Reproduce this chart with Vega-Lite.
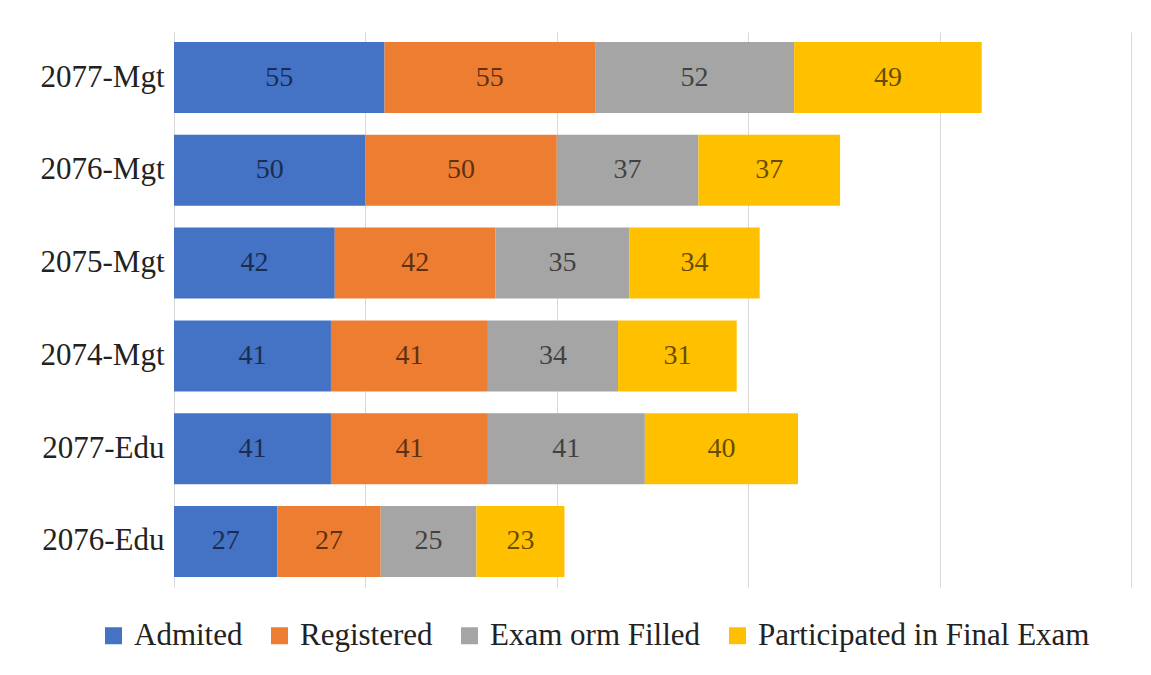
{
  "$schema": "https://vega.github.io/schema/vega-lite/v6.json",
  "autosize": "none",
  "width": 957,
  "height": 555,
  "padding": {"left": 174, "top": 32, "right": 20, "bottom": 88},
  "background": "white",
  "data": {"values": [
    {"cat": "2077-Mgt", "series": "Admited", "value": 55},
    {"cat": "2077-Mgt", "series": "Registered", "value": 55},
    {"cat": "2077-Mgt", "series": "Exam orm Filled", "value": 52},
    {"cat": "2077-Mgt", "series": "Participated in Final Exam", "value": 49},
    {"cat": "2076-Mgt", "series": "Admited", "value": 50},
    {"cat": "2076-Mgt", "series": "Registered", "value": 50},
    {"cat": "2076-Mgt", "series": "Exam orm Filled", "value": 37},
    {"cat": "2076-Mgt", "series": "Participated in Final Exam", "value": 37},
    {"cat": "2075-Mgt", "series": "Admited", "value": 42},
    {"cat": "2075-Mgt", "series": "Registered", "value": 42},
    {"cat": "2075-Mgt", "series": "Exam orm Filled", "value": 35},
    {"cat": "2075-Mgt", "series": "Participated in Final Exam", "value": 34},
    {"cat": "2074-Mgt", "series": "Admited", "value": 41},
    {"cat": "2074-Mgt", "series": "Registered", "value": 41},
    {"cat": "2074-Mgt", "series": "Exam orm Filled", "value": 34},
    {"cat": "2074-Mgt", "series": "Participated in Final Exam", "value": 31},
    {"cat": "2077-Edu", "series": "Admited", "value": 41},
    {"cat": "2077-Edu", "series": "Registered", "value": 41},
    {"cat": "2077-Edu", "series": "Exam orm Filled", "value": 41},
    {"cat": "2077-Edu", "series": "Participated in Final Exam", "value": 40},
    {"cat": "2076-Edu", "series": "Admited", "value": 27},
    {"cat": "2076-Edu", "series": "Registered", "value": 27},
    {"cat": "2076-Edu", "series": "Exam orm Filled", "value": 25},
    {"cat": "2076-Edu", "series": "Participated in Final Exam", "value": 23}
  ]},
  "transform": [
    {"calculate": "indexof(['Admited','Registered','Exam orm Filled','Participated in Final Exam'], datum.series)", "as": "ord"},
    {"stack": "value", "groupby": ["cat"], "sort": [{"field": "ord", "order": "ascending"}], "as": ["x0", "x1"]},
    {"calculate": "(datum.x0 + datum.x1) / 2", "as": "mid"}
  ],
  "encoding": {
    "y": {
      "field": "cat", "type": "nominal",
      "sort": ["2077-Mgt", "2076-Mgt", "2075-Mgt", "2074-Mgt", "2077-Edu", "2076-Edu"],
      "scale": {"paddingInner": 0.235, "paddingOuter": 0.108},
      "axis": {"title": null, "domain": false, "ticks": false, "labelFont": "Liberation Serif", "labelFontSize": 31, "labelColor": "#222222", "labelPadding": 10}
    }
  },
  "layer": [
    {
      "mark": {"type": "bar"},
      "encoding": {
        "x": {"field": "x0", "type": "quantitative", "scale": {"domain": [0, 250], "nice": false},
          "axis": {"title": null, "labels": false, "ticks": false, "domain": false, "values": [0, 50, 100, 150, 200, 250], "grid": true, "gridColor": "#d9d9d9", "gridWidth": 1}},
        "x2": {"field": "x1"},
        "color": {
          "field": "series", "type": "nominal",
          "scale": {"domain": ["Admited", "Registered", "Exam orm Filled", "Participated in Final Exam"], "range": ["#4472C4", "#ED7D31", "#A5A5A5", "#FFC000"]},
          "legend": {
            "title": null, "orient": "none", "direction": "horizontal", "legendX": -76, "legendY": 588,
            "symbolType": "square", "symbolSize": 289, "symbolStrokeWidth": 0, "symbolOpacity": 1,
            "labelFont": "Liberation Serif", "labelFontSize": 31, "labelColor": "#222222", "labelOffset": 5,
            "columnPadding": 21, "labelLimit": 600
          }
        }
      }
    },
    {
      "mark": {"type": "text", "font": "Liberation Serif", "fontSize": 28, "color": "#000000", "opacity": 0.6, "baseline": "middle", "align": "center"},
      "encoding": {
        "x": {"field": "mid", "type": "quantitative"},
        "text": {"field": "value", "type": "quantitative"}
      }
    }
  ],
  "config": {
    "font": "Liberation Serif",
    "view": {"stroke": null},
    "text": {"font": "Liberation Serif"},
    "legend": {"labelFont": "Liberation Serif"},
    "axis": {"labelFont": "Liberation Serif"}
  }
}
